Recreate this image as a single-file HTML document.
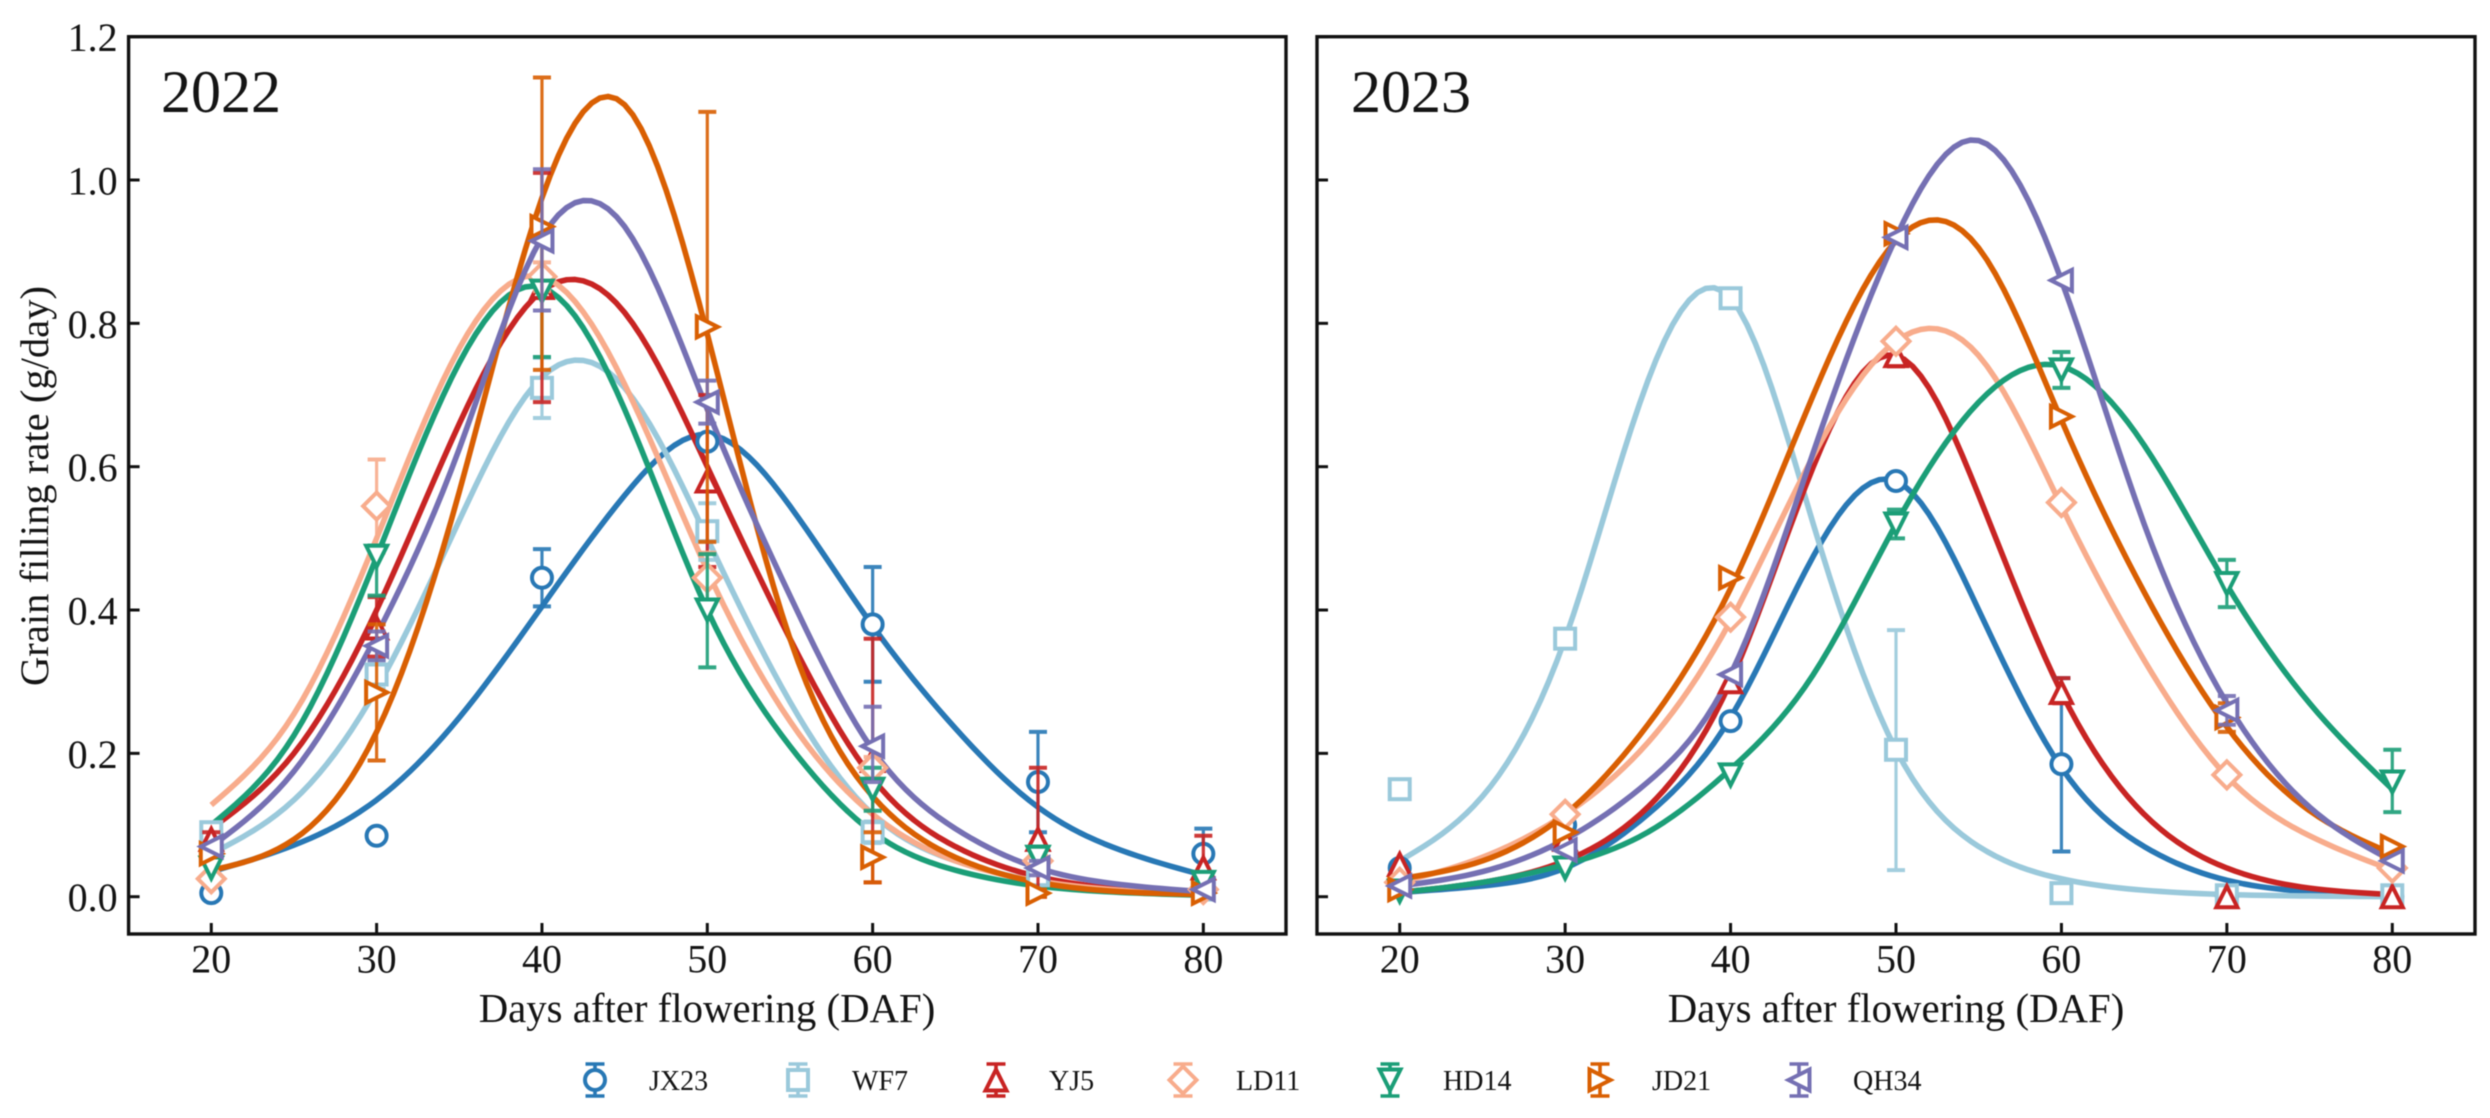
<!DOCTYPE html>
<html lang="en">
<head>
<meta charset="utf-8">
<title>Grain filling rate 2022 and 2023</title>
<style>
html,body{margin:0;padding:0;background:#fff;}
svg{display:block;font-family:"Liberation Serif",serif;fill:#111;filter:blur(0.6px);}
text{fill:#141414;}
</style>
</head>
<body>
<svg id="chart" xmlns="http://www.w3.org/2000/svg" width="2490" height="1118" viewBox="0 0 2490 1118">
  <rect x="0" y="0" width="2490" height="1118" fill="#fff"/>
  <g id="panel2022"></g>
  <g id="panel2023"></g>
  <text x="161" y="112" font-size="60">2022</text>
  <text x="1351" y="112" font-size="60">2023</text>
  <text transform="translate(48,486) rotate(-90)" text-anchor="middle" font-size="40.6">Grain filling rate (g/day)</text>
  <text x="707" y="1022" text-anchor="middle" font-size="40.8">Days after flowering (DAF)</text>
  <text x="1896" y="1022" text-anchor="middle" font-size="40.8">Days after flowering (DAF)</text>
  <g id="legend"></g>
</svg>
<script>
// Axis data
const pointDays = [20, 30, 40, 50, 60, 70, 80];
const curveDays = [20, 25, 30, 35, 40, 45, 50, 55, 60, 65, 70, 75, 80];
const xTickLabels = [20, 30, 40, 50, 60, 70, 80];
const yTickLabels = ['0.0', '0.2', '0.4', '0.6', '0.8', '1.0', '1.2'];

// 2022 measured values
const jx23Points2022 = [0.005, 0.085, 0.445, 0.635, 0.38, 0.16, 0.06];
const jx23Low2022 = [0.005, 0.085, 0.405, 0.635, 0.30, 0.09, 0.025];
const jx23High2022 = [0.005, 0.085, 0.485, 0.635, 0.46, 0.23, 0.095];
const wf7Points2022 = [0.09, 0.31, 0.71, 0.51, 0.09, 0.03, 0.01];
const wf7Low2022 = [0.09, 0.29, 0.668, 0.47, 0.075, 0.02, 0.01];
const wf7High2022 = [0.09, 0.33, 0.752, 0.549, 0.105, 0.04, 0.01];
const yj5Points2022 = [0.08, 0.375, 0.85, 0.58, 0.19, 0.08, 0.04];
const yj5Low2022 = [0.07, 0.335, 0.69, 0.46, 0.02, 0, 0];
const yj5High2022 = [0.09, 0.418, 1.01, 0.70, 0.36, 0.18, 0.085];
const ld11Points2022 = [0.025, 0.545, 0.865, 0.445, 0.18, 0.05, 0.01];
const ld11Low2022 = [0.025, 0.48, 0.845, 0.41, 0.165, 0.04, 0.01];
const ld11High2022 = [0.025, 0.61, 0.885, 0.48, 0.195, 0.06, 0.01];
const hd14Points2022 = [0.04, 0.475, 0.845, 0.40, 0.15, 0.055, 0.02];
const hd14Low2022 = [0.04, 0.42, 0.753, 0.32, 0.12, 0.04, 0.01];
const hd14High2022 = [0.04, 0.49, 0.937, 0.478, 0.18, 0.07, 0.03];
const jd21Points2022 = [0.06, 0.285, 0.935, 0.795, 0.055, 0.005, 0.005];
const jd21Low2022 = [0.06, 0.19, 0.735, 0.495, 0.02, 0, 0];
const jd21High2022 = [0.06, 0.38, 1.143, 1.095, 0.09, 0.01, 0.01];
const qh34Points2022 = [0.07, 0.35, 0.915, 0.69, 0.21, 0.04, 0.01];
const qh34Low2022 = [0.07, 0.33, 0.818, 0.66, 0.16, 0.03, 0.01];
const qh34High2022 = [0.07, 0.37, 1.015, 0.72, 0.265, 0.05, 0.01];

// 2022 fitted curves
const jx23Curve2022 = [0.035, 0.072, 0.135, 0.25, 0.405, 0.56, 0.645, 0.545, 0.378, 0.235, 0.125, 0.065, 0.03];
const wf7Curve2022 = [0.06, 0.135, 0.29, 0.525, 0.725, 0.71, 0.50, 0.272, 0.115, 0.05, 0.022, 0.01, 0.004];
const yj5Curve2022 = [0.095, 0.20, 0.40, 0.66, 0.845, 0.815, 0.60, 0.36, 0.165, 0.07, 0.028, 0.011, 0.004];
const ld11Curve2022 = [0.128, 0.255, 0.50, 0.765, 0.865, 0.715, 0.455, 0.245, 0.115, 0.05, 0.022, 0.009, 0.004];
const hd14Curve2022 = [0.10, 0.225, 0.474, 0.745, 0.85, 0.68, 0.40, 0.21, 0.09, 0.037, 0.015, 0.006, 0.002];
const jd21Curve2022 = [0.037, 0.08, 0.23, 0.565, 0.975, 1.105, 0.785, 0.36, 0.14, 0.055, 0.02, 0.007, 0.003];
const qh34Curve2022 = [0.07, 0.175, 0.365, 0.625, 0.92, 0.935, 0.68, 0.42, 0.205, 0.095, 0.04, 0.017, 0.007];

// 2023 measured values
const jx23Points2023 = [0.04, 0.10, 0.245, 0.58, 0.185, 0, 0];
const jx23Low2023 = [0.04, 0.10, 0.245, 0.58, 0.063, 0, 0];
const jx23High2023 = [0.04, 0.10, 0.245, 0.58, 0.305, 0, 0];
const wf7Points2023 = [0.15, 0.36, 0.835, 0.205, 0.005, 0.002, 0.002];
const wf7Low2023 = [0.15, 0.36, 0.835, 0.037, 0.005, 0.002, 0.002];
const wf7High2023 = [0.15, 0.36, 0.835, 0.372, 0.005, 0.002, 0.002];
const yj5Points2023 = [0.045, 0.08, 0.30, 0.755, 0.285, 0, 0];
const yj5Low2023 = [0.045, 0.08, 0.29, 0.74, 0.27, 0, 0];
const yj5High2023 = [0.045, 0.08, 0.31, 0.77, 0.305, 0, 0];
const ld11Points2023 = [0.02, 0.115, 0.39, 0.775, 0.55, 0.17, 0.04];
const ld11Low2023 = [0.02, 0.115, 0.39, 0.775, 0.55, 0.17, 0.04];
const ld11High2023 = [0.02, 0.115, 0.39, 0.775, 0.55, 0.17, 0.04];
const hd14Points2023 = [0.008, 0.04, 0.17, 0.52, 0.735, 0.437, 0.16];
const hd14Low2023 = [0.008, 0.04, 0.17, 0.50, 0.71, 0.404, 0.118];
const hd14High2023 = [0.008, 0.04, 0.17, 0.54, 0.76, 0.47, 0.205];
const jd21Points2023 = [0.01, 0.09, 0.445, 0.925, 0.67, 0.25, 0.07];
const jd21Low2023 = [0.01, 0.09, 0.445, 0.925, 0.67, 0.23, 0.07];
const jd21High2023 = [0.01, 0.09, 0.445, 0.925, 0.67, 0.27, 0.07];
const qh34Points2023 = [0.015, 0.065, 0.31, 0.92, 0.86, 0.26, 0.05];
const qh34Low2023 = [0.015, 0.065, 0.31, 0.92, 0.86, 0.24, 0.05];
const qh34High2023 = [0.015, 0.065, 0.31, 0.92, 0.86, 0.28, 0.05];

// 2023 fitted curves
const jx23Curve2023 = [0.006, 0.015, 0.04, 0.115, 0.25, 0.475, 0.58, 0.40, 0.18, 0.07, 0.023, 0.007, 0.002];
const wf7Curve2023 = [0.05, 0.14, 0.36, 0.72, 0.835, 0.52, 0.205, 0.07, 0.025, 0.009, 0.003, 0.001, 0];
const yj5Curve2023 = [0.006, 0.02, 0.05, 0.125, 0.30, 0.60, 0.755, 0.56, 0.285, 0.115, 0.04, 0.012, 0.003];
const ld11Curve2023 = [0.02, 0.055, 0.115, 0.215, 0.385, 0.615, 0.775, 0.755, 0.545, 0.33, 0.168, 0.085, 0.037];
const hd14Curve2023 = [0.006, 0.02, 0.045, 0.09, 0.178, 0.31, 0.52, 0.69, 0.74, 0.63, 0.435, 0.27, 0.15];
const jd21Curve2023 = [0.025, 0.05, 0.115, 0.24, 0.43, 0.70, 0.915, 0.905, 0.665, 0.425, 0.237, 0.12, 0.06];
const qh34Curve2023 = [0.015, 0.035, 0.08, 0.16, 0.31, 0.62, 0.92, 1.055, 0.86, 0.52, 0.27, 0.125, 0.05];

const seriesKeys = ['JX23', 'WF7', 'YJ5', 'LD11', 'HD14', 'JD21', 'QH34'];
const seriesColors = ['#2878b5', '#9ac9db', '#c82423', '#f8ac8c', '#1b9e77', '#d95f02', '#7570b3'];
const seriesMarkers = ['circle', 'square', 'up', 'diamond', 'down', 'right', 'left'];

const data2022 = [
  [jx23Curve2022, jx23Points2022, jx23Low2022, jx23High2022],
  [wf7Curve2022, wf7Points2022, wf7Low2022, wf7High2022],
  [yj5Curve2022, yj5Points2022, yj5Low2022, yj5High2022],
  [ld11Curve2022, ld11Points2022, ld11Low2022, ld11High2022],
  [hd14Curve2022, hd14Points2022, hd14Low2022, hd14High2022],
  [jd21Curve2022, jd21Points2022, jd21Low2022, jd21High2022],
  [qh34Curve2022, qh34Points2022, qh34Low2022, qh34High2022]
];
const data2023 = [
  [jx23Curve2023, jx23Points2023, jx23Low2023, jx23High2023],
  [wf7Curve2023, wf7Points2023, wf7Low2023, wf7High2023],
  [yj5Curve2023, yj5Points2023, yj5Low2023, yj5High2023],
  [ld11Curve2023, ld11Points2023, ld11Low2023, ld11High2023],
  [hd14Curve2023, hd14Points2023, hd14Low2023, hd14High2023],
  [jd21Curve2023, jd21Points2023, jd21Low2023, jd21High2023],
  [qh34Curve2023, qh34Points2023, qh34Low2023, qh34High2023]
];

const NS = 'http://www.w3.org/2000/svg';
const plotTop = 36.7;
const plotBottom = 934;
const yZero = 896.7;
const yUnit = 716.7;
const xMin = 15;
const xMax = 85;

function yScale(v) {
  return yZero - v * yUnit;
}
function xScaleFor(left, right) {
  return function (d) {
    return left + (d - xMin) * (right - left) / (xMax - xMin);
  };
}
function make(tag, attrs, parent) {
  const el = document.createElementNS(NS, tag);
  for (const k in attrs) el.setAttribute(k, attrs[k]);
  parent.appendChild(el);
  return el;
}

// Natural cubic spline through the sampled curve values
function splineFn(xs, ys) {
  const n = xs.length;
  const a = new Array(n).fill(0);
  const u = new Array(n).fill(0);
  for (let i = 1; i < n - 1; i++) {
    const sig = (xs[i] - xs[i - 1]) / (xs[i + 1] - xs[i - 1]);
    const p = sig * a[i - 1] + 2;
    a[i] = (sig - 1) / p;
    const dy = (ys[i + 1] - ys[i]) / (xs[i + 1] - xs[i]) - (ys[i] - ys[i - 1]) / (xs[i] - xs[i - 1]);
    u[i] = (6 * dy / (xs[i + 1] - xs[i - 1]) - sig * u[i - 1]) / p;
  }
  for (let k = n - 2; k >= 0; k--) a[k] = a[k] * a[k + 1] + u[k];
  return function (x) {
    let i = 0;
    while (i < n - 2 && x > xs[i + 1]) i++;
    const h = xs[i + 1] - xs[i];
    const A = (xs[i + 1] - x) / h;
    const B = (x - xs[i]) / h;
    return A * ys[i] + B * ys[i + 1] + ((A * A * A - A) * a[i] + (B * B * B - B) * a[i + 1]) * h * h / 6;
  };
}

function drawMarker(kind, cx, cy, color, parent) {
  const sw = 4;
  const base = { fill: '#fff', stroke: color, 'stroke-width': sw, 'stroke-linejoin': 'miter' };
  let el;
  if (kind === 'circle') {
    el = make('circle', Object.assign({ cx: cx, cy: cy, r: 10 }, base), parent);
  } else if (kind === 'square') {
    el = make('rect', Object.assign({ x: cx - 10, y: cy - 10, width: 20, height: 20 }, base), parent);
  } else {
    const h = 10.5;
    const dd = 13.5;
    const shapes = {
      up: [[0, -h], [-h, h], [h, h]],
      down: [[0, h], [-h, -h], [h, -h]],
      left: [[-h, 0], [h, -h], [h, h]],
      right: [[h, 0], [-h, -h], [-h, h]],
      diamond: [[0, -dd], [dd, 0], [0, dd], [-dd, 0]]
    };
    const pts = shapes[kind].map(function (p) { return (cx + p[0]) + ',' + (cy + p[1]); }).join(' ');
    el = make('polygon', Object.assign({ points: pts }, base), parent);
  }
  return el;
}

function drawPanel(group, yearData, year, left, right, showYLabels) {
  const xScale = xScaleFor(left, right);

  const curves = make('g', {}, group);
  
  
  yearData.forEach(function (row, s) {
    const fn = splineFn(curveDays, row[0]);
    let d = '';
    for (let x = curveDays[0]; x <= curveDays[curveDays.length - 1] + 1e-6; x += 0.5) {
      d += (d ? 'L' : 'M') + xScale(x).toFixed(2) + ' ' + yScale(Math.max(fn(x), 0)).toFixed(2);
    }
    const path = make('path', { d: d, fill: 'none', stroke: seriesColors[s], 'stroke-width': 5.6, 'stroke-linejoin': 'round' }, curves);
    
    
  });

  yearData.forEach(function (row, s) {
    const g = make('g', {}, group);
    
    
    pointDays.forEach(function (day, i) {
      const px = xScale(day);
      const lo = row[2][i];
      const hi = row[3][i];
      if (hi > lo) {
        const bar = make('g', { stroke: seriesColors[s], 'stroke-width': 3.2, opacity: 0.9 }, g);
        
        
        make('line', { x1: px, x2: px, y1: yScale(lo), y2: yScale(hi) }, bar);
        make('line', { x1: px - 9, x2: px + 9, y1: yScale(lo), y2: yScale(lo), 'stroke-width': 4 }, bar);
        make('line', { x1: px - 9, x2: px + 9, y1: yScale(hi), y2: yScale(hi), 'stroke-width': 4 }, bar);
      }
      const m = drawMarker(seriesMarkers[s], px, yScale(row[1][i]), seriesColors[s], g);
      
      
    });
  });

  const frame = make('rect', { x: left, y: plotTop, width: right - left, height: plotBottom - plotTop, fill: 'none', stroke: '#111', 'stroke-width': 3.4 }, group);
  
  

  yTickLabels.forEach(function (lab) {
    const y = yScale(parseFloat(lab));
    const t = make('line', { x1: left, x2: left + 11, y1: y, y2: y, stroke: '#111', 'stroke-width': 3 }, group);
    
    
    if (showYLabels) {
      const tx = make('text', { x: left - 11, y: y + 14.5, 'text-anchor': 'end', 'font-size': 40 }, group);
      
      
      tx.textContent = lab;
    }
  });
  xTickLabels.forEach(function (lab) {
    const x = xScale(lab);
    const t = make('line', { x1: x, x2: x, y1: plotBottom, y2: plotBottom - 11, stroke: '#111', 'stroke-width': 3 }, group);
    
    
    const tx = make('text', { x: x, y: 972.5, 'text-anchor': 'middle', 'font-size': 40 }, group);
    
    
    tx.textContent = lab;
  });
}

drawPanel(document.getElementById('panel2022'), data2022, '2022', 128.6, 1286, true);
drawPanel(document.getElementById('panel2023'), data2023, '2023', 1317, 2475, false);

// Legend
const legendGroup = document.getElementById('legend');
const legendMarkerX = [595, 798, 996, 1183, 1390, 1600, 1799];
const legendTextX = [649, 852, 1049, 1236, 1443, 1652, 1853];
const legendY = 1080;
seriesKeys.forEach(function (key, s) {
  const g = make('g', {}, legendGroup);
  
  
  const x = legendMarkerX[s];
  const bar = make('g', { stroke: seriesColors[s], 'stroke-width': 3.6 }, g);
  make('line', { x1: x, x2: x, y1: legendY - 16, y2: legendY + 16 }, bar);
  make('line', { x1: x - 9.5, x2: x + 9.5, y1: legendY - 16, y2: legendY - 16 }, bar);
  make('line', { x1: x - 9.5, x2: x + 9.5, y1: legendY + 16, y2: legendY + 16 }, bar);
  drawMarker(seriesMarkers[s], x, legendY, seriesColors[s], g);
  const t = make('text', { x: legendTextX[s], y: legendY + 10, 'font-size': 28 }, g);
  
  
  t.textContent = key;
});
</script>
</body>
</html>
